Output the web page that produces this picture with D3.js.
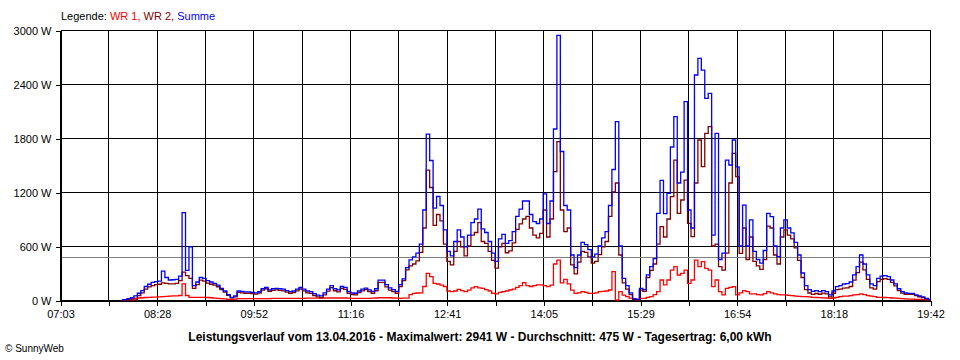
<!DOCTYPE html>
<html><head><meta charset="utf-8">
<script src="https://cdn.jsdelivr.net/npm/d3@7/dist/d3.min.js"></script>
<style>
body{margin:0;background:#fff}
svg{display:block}
text{font-family:"Liberation Sans",Arial,sans-serif}
</style>
</head><body>
<svg id="c" width="960" height="360"></svg>
<script>
// ---- data ----
const axisStart = "07:03";
const axisEnd = "19:42";
const sampleStart = "07:57";
const sampleStepMinutes = 3;
const xTickLabels = ["07:03","08:28","09:52","11:16","12:41","14:05","15:29","16:54","18:18","19:42"];
const yTicks = [0, 600, 1200, 1800, 2400, 3000];
const averageW = 475;
const seriesNames = ["WR 1", "WR 2", "Summe"];
const titleText = "Leistungsverlauf vom 13.04.2016 - Maximalwert: 2941 W - Durchschnitt: 475 W - Tagesertrag: 6,00 kWh";

const wr1 = [
0,5,10,15,18,22,25,28,30,33,
33,35,38,40,42,45,45,50,180,50,
30,30,30,30,30,28,25,20,18,15,
12,8,7,10,15,15,15,15,15,15,
15,15,15,15,18,18,18,18,18,18,
18,18,18,18,20,20,20,20,20,22,
22,22,22,22,22,22,20,18,18,18,
18,18,18,20,22,25,25,25,25,22,
20,18,20,20,60,74,78,80,150,296,
260,185,178,165,150,100,93,100,118,105,
93,110,135,148,135,130,115,100,75,67,
85,93,100,111,120,140,160,192,160,150,
160,167,167,160,148,165,400,444,190,230,
180,110,74,80,93,85,74,74,80,93,
95,100,111,315,0,93,55,37,20,10,
7,19,19,30,37,60,93,222,167,222,
333,370,278,296,333,185,222,444,370,426,
352,333,148,222,93,56,130,140,148,56,
80,104,93,67,67,60,56,70,93,80,
67,60,56,56,52,48,44,40,37,37,
35,30,28,26,24,22,19,22,30,37,
42,44,48,56,60,67,60,48,42,37,
30,30,28,26,22,20,19,15,12,10,
10,8,7,7,5,3];

const wr2 = [
0,0,0,0,0,50,80,120,145,160,
170,175,190,185,180,180,185,215,310,270,
240,130,170,220,210,187,175,165,147,115,
88,52,23,35,85,80,75,75,70,65,
78,110,125,97,107,112,107,102,87,75,
82,102,122,102,80,73,50,35,25,58,
98,138,103,90,128,118,75,60,57,82,
102,115,94,75,103,195,195,145,110,93,
75,150,215,335,380,400,435,530,800,1444,
1250,830,950,880,620,430,390,540,650,590,
490,600,720,750,860,650,630,540,440,355,
590,630,525,545,635,785,845,900,930,800,
720,690,740,1000,700,900,1426,1759,1000,760,
800,390,290,420,540,530,480,410,430,505,
590,650,930,1200,1300,500,190,120,60,5,
0,110,95,250,330,400,620,815,700,900,
1148,1555,963,1111,1333,852,704,1300,1778,1481,
1852,1926,600,620,370,333,520,1300,1630,1370,
518,800,450,700,430,380,340,450,820,800,
500,400,700,780,720,680,580,440,250,115,
78,62,72,64,76,68,35,75,115,120,
132,135,150,220,305,420,335,230,135,120,
205,230,238,230,196,158,104,76,64,62,
62,48,36,27,13,4];

const summe = [
0,5,15,25,45,75,105,150,175,195,
205,210,320,250,222,225,230,265,970,330,
590,160,200,250,240,215,200,185,165,130,
100,60,30,45,100,95,90,90,85,80,
93,125,140,112,125,130,125,120,105,93,
100,120,140,120,100,93,70,55,45,80,
120,160,125,112,150,140,95,78,75,100,
120,133,112,95,125,220,220,170,135,115,
95,170,235,360,445,480,520,620,1000,1844,
1550,1020,1150,1050,780,540,490,650,780,700,
590,720,860,900,1010,790,750,650,520,430,
680,730,630,660,760,930,1010,1100,1100,950,
870,850,900,1180,850,1100,1900,2941,1650,1050,
1000,500,360,500,640,615,560,480,510,600,
690,760,1050,1450,1981,600,240,160,80,15,
7,130,115,280,370,460,963,1330,960,1185,
1700,2037,1300,1420,2204,1000,800,2500,2685,2555,
2240,2296,720,1852,450,520,1555,1500,1778,1480,
600,1055,600,890,540,450,410,550,963,926,
600,481,800,890,800,745,640,500,300,160,
115,95,104,93,104,93,56,100,148,160,
178,182,200,280,370,500,400,280,180,160,
240,265,270,259,222,180,125,93,78,74,
74,58,45,35,19,7];

// ---- drawing ----
const toMin = s => { const [h,m] = s.split(":").map(Number); return h*60+m; };
const t0 = toMin(axisStart), t1 = toMin(axisEnd), ts = toMin(sampleStart);
const svg = d3.select("#c");
const L = 60, R = 930, T = 30, B = 300;
const x = d3.scaleLinear().domain([t0, t1]).range([L, R]);
const y = d3.scaleLinear().domain([0, 3000]).range([B, T]);

const nGrid = (xTickLabels.length - 1) * 2;
const gridTimes = d3.range(nGrid + 1).map(k => t0 + k * (t1 - t0) / nGrid);

const g = svg.append("g").attr("transform", "translate(0.5,0.5)");

// gridlines
g.append("g").selectAll("line.v").data(gridTimes).join("line")
  .attr("x1", d => Math.round(x(d))).attr("x2", d => Math.round(x(d)))
  .attr("y1", T).attr("y2", B).attr("stroke", "#000").attr("stroke-width", 1)
  .attr("shape-rendering", "crispEdges");
g.append("g").selectAll("line.h").data(yTicks).join("line")
  .attr("x1", L).attr("x2", R)
  .attr("y1", d => Math.round(y(d))).attr("y2", d => Math.round(y(d)))
  .attr("stroke", "#000").attr("stroke-width", 1).attr("shape-rendering", "crispEdges");

// average line
g.append("line").attr("x1", L).attr("x2", R)
  .attr("y1", Math.round(y(averageW))).attr("y2", Math.round(y(averageW)))
  .attr("stroke", "#808080").attr("stroke-width", 1).attr("shape-rendering", "crispEdges");

// axes
const yAxis = d3.axisLeft(y).tickValues(yTicks).tickSize(5).tickSizeOuter(0).tickPadding(4)
  .tickFormat(d => d + " W");
const ya = g.append("g").attr("transform", `translate(${L},0)`).call(yAxis);
const xAxis = d3.axisBottom(x).tickValues(gridTimes).tickSize(5).tickSizeOuter(0).tickPadding(5)
  .tickFormat((d, i) => i % 2 === 0 ? xTickLabels[i / 2] : "");
const xa = g.append("g").attr("transform", `translate(0,${B})`).call(xAxis);
[ya, xa].forEach(a => {
  a.select(".domain").attr("stroke", "#000").attr("shape-rendering", "crispEdges");
  a.selectAll(".tick line").attr("stroke", "#000").attr("shape-rendering", "crispEdges");
  a.selectAll("text").attr("fill", "#000").style("font-size", "11px")
    .style("font-family", '"Liberation Sans",Arial,sans-serif');
});

// series
const times = summe.map((_, i) => ts + i * sampleStepMinutes);
const line = d3.line().x((d, i) => x(times[i])).y(d => y(d)).curve(d3.curveStep);
const series = [
  {name: seriesNames[0], values: wr1, color: "#ff0000"},
  {name: seriesNames[1], values: wr2, color: "#800000"},
  {name: seriesNames[2], values: summe, color: "#0000ff"}
];
svg.append("g").selectAll("path").data(series).join("path")
  .attr("d", d => line(d.values)).attr("fill", "none")
  .attr("stroke", d => d.color).attr("stroke-width", 1.3)
  .attr("stroke-linejoin", "miter");

// legend
const leg = svg.append("text").attr("x", 61).attr("y", 20).style("font-size", "11px");
leg.append("tspan").attr("fill", "#000").text("Legende: ");
series.forEach((s, i) => {
  leg.append("tspan").attr("fill", s.color).text(s.name + (i < series.length - 1 ? ", " : ""));
});

// title
svg.append("text").attr("x", 480).attr("y", 341).attr("text-anchor", "middle")
  .style("font-size", "12px").style("font-weight", "bold").attr("fill", "#000")
  .text(titleText);
svg.append("text").attr("x", 5).attr("y", 352).style("font-size", "10px").attr("fill", "#000")
  .text("© SunnyWeb");
</script>
</body></html>
